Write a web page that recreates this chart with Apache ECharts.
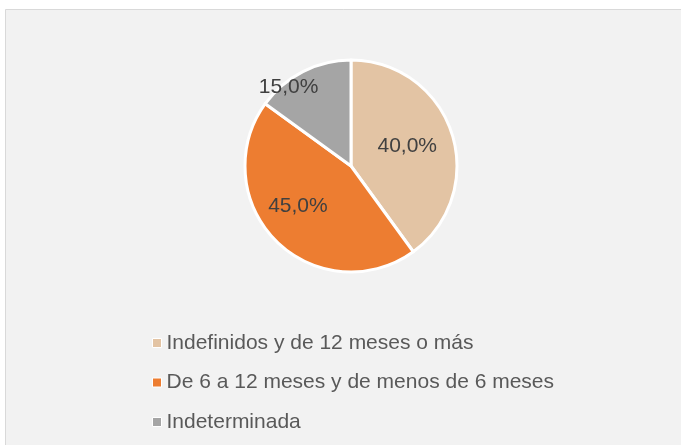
<!DOCTYPE html>
<html>
<head>
<meta charset="utf-8">
<script src="https://cdn.jsdelivr.net/npm/echarts@6/dist/echarts.min.js"></script>
<style>
  html, body { margin: 0; padding: 0; background: #fff; }
  #chart { width: 681px; height: 445px; }
</style>
</head>
<body>
<div id="chart"></div>
<script>
// datos
const categories = ['Indefinidos y de 12 meses o más', 'De 6 a 12 meses y de menos de 6 meses', 'Indeterminada']
const values = [40.0, 45.0, 15.0]
const colors = ['#e3c4a4', '#ed7d31', '#a5a5a5']
// ajuste de las etiquetas (como las coloca Excel)
const labelShift = [[3, -2.5], [-13.5, 1], [-37, -29]]

const chart = echarts.init(document.getElementById('chart'))
const option = {
  animation: false,
  textStyle: { fontFamily: 'Liberation Sans, Arial, sans-serif' },
  graphic: [
    {
      type: 'rect',
      z: -10,
      shape: { x: 5.5, y: 9.5, width: 700, height: 460 },
      style: { fill: '#f2f2f2', stroke: '#d9d9d9', lineWidth: 1 }
    }
  ],
  legend: {
    orient: 'vertical',
    left: 152,
    top: 332,
    padding: 0,
    itemWidth: 9,
    itemHeight: 9,
    itemGap: 17.5,
    icon: 'rect',
    selectedMode: false,
    itemStyle: { borderColor: '#fff', borderWidth: 1 },
    textStyle: { fontSize: 21, lineHeight: 22, color: '#595959' },
    data: categories
  },
  series: [
    {
      type: 'pie',
      center: [351, 166],
      radius: 106,
      startAngle: 90,
      clockwise: true,
      color: colors,
      itemStyle: { borderColor: '#fff', borderWidth: 3 },
      label: {
        show: true,
        position: 'inside',
        fontSize: 21,
        color: '#404040',
        formatter: p => p.value.toFixed(1).replace('.', ',') + '%'
      },
      labelLine: { show: false },
      labelLayout: p => ({ dx: labelShift[p.dataIndex][0], dy: labelShift[p.dataIndex][1] }),
      emphasis: { disabled: true },
      data: categories.map((name, i) => ({ name: name, value: values[i] }))
    }
  ]
}
chart.setOption(option)
</script>
</body>
</html>
